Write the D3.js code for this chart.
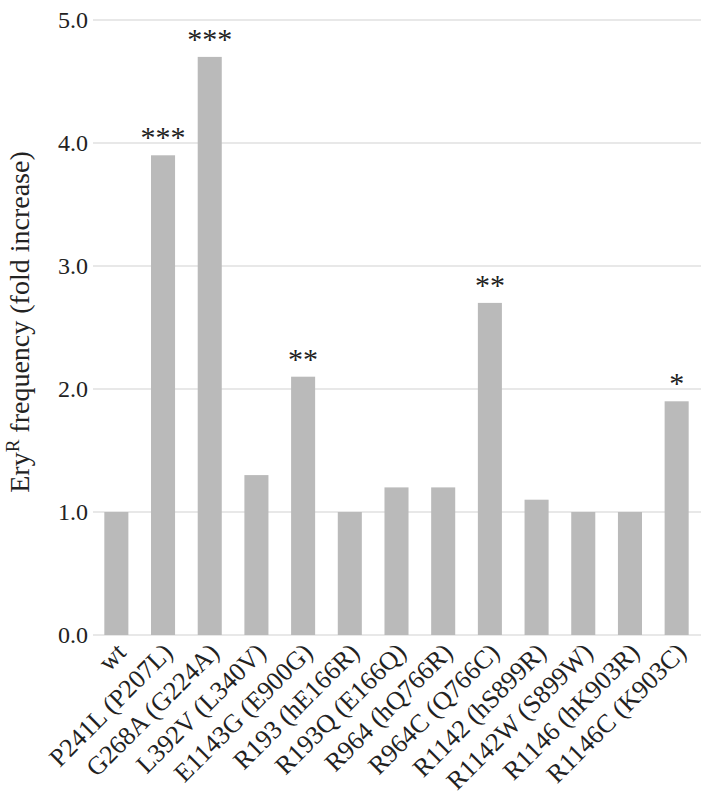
<!DOCTYPE html>
<html><head><meta charset="utf-8">
<script src="https://cdn.jsdelivr.net/npm/d3@7"></script>
<style>
html,body{margin:0;padding:0;background:#fff;}
svg text{font-family:"Liberation Serif","Times New Roman",serif;fill:#222;}
</style></head>
<body>
<svg id="chart" width="713" height="798"></svg>
<script>
const categories = ["wt","P241L (P207L)","G268A (G224A)","L392V (L340V)","E1143G (E900G)","R193 (hE166R)","R193Q (E166Q)","R964 (hQ766R)","R964C (Q766C)","R1142 (hS899R)","R1142W (S899W)","R1146 (hK903R)","R1146C (K903C)"];
const values = [1.0,3.9,4.7,1.3,2.1,1.0,1.2,1.2,2.7,1.1,1.0,1.0,1.9];
const significance = ["","***","***","","**","","","","**","","","","*"];
const yTicks = [0,1,2,3,4,5];

const svg = d3.select("#chart");
const mLeft = 93, mRight = 700, mTop = 20, mBottom = 635;

const x = d3.scaleBand().domain(categories).range([mLeft, mRight]).paddingInner(0.485).paddingOuter(0.2425);
const y = d3.scaleLinear().domain([0,5]).range([mBottom, mTop]);

// gridlines
svg.append("g").selectAll("line").data(yTicks).join("line")
  .attr("x1", mLeft).attr("x2", mRight+1)
  .attr("y1", d=>y(d)).attr("y2", d=>y(d))
  .attr("stroke", "#e8e8e8").attr("stroke-width", 2);

// y axis labels
const yAxis = d3.axisLeft(y).tickValues(yTicks).tickFormat(d3.format(".1f")).tickSize(0).tickPadding(5);
const gy = svg.append("g").attr("transform", `translate(${mLeft},0)`).call(yAxis);
gy.select(".domain").remove();
gy.selectAll("text").style("font-size","24px").attr("fill","#222").style("font-family",'"Liberation Serif",serif');

// bars
svg.append("g").selectAll("rect").data(categories).join("rect")
  .attr("x", d=>x(d)).attr("width", x.bandwidth())
  .attr("y", (d,i)=>y(values[i])).attr("height", (d,i)=>y(0)-y(values[i]))
  .attr("fill", "#bababa");

// significance stars
svg.append("g").selectAll("text").data(categories).join("text")
  .attr("x", d=>x(d)+x.bandwidth()/2)
  .attr("y", (d,i)=>y(values[i]) - 8)
  .attr("text-anchor","middle")
  .style("font-size","30px")
  .text((d,i)=>significance[i]);

// x axis labels
const xAxis = d3.axisBottom(x).tickSize(0).tickPadding(0);
const gx = svg.append("g").attr("transform", `translate(0,${mBottom})`).call(xAxis);
gx.select(".domain").remove();
gx.selectAll("text")
  .style("font-size","26px").style("font-family",'"Liberation Serif",serif').attr("fill","#222")
  .attr("text-anchor","end")
  .attr("dy", null)
  .attr("y", 0)
  .attr("transform", "translate(11,19) rotate(-45)");

// y title
const title = svg.append("text")
  .attr("transform", "translate(29,322) rotate(-90)")
  .attr("text-anchor","middle")
  .style("font-size","28px");
title.append("tspan").text("Ery");
title.append("tspan").attr("baseline-shift","super").style("font-size","19px").text("R");
title.append("tspan").text(" frequency (fold increase)");
</script>
</body></html>
